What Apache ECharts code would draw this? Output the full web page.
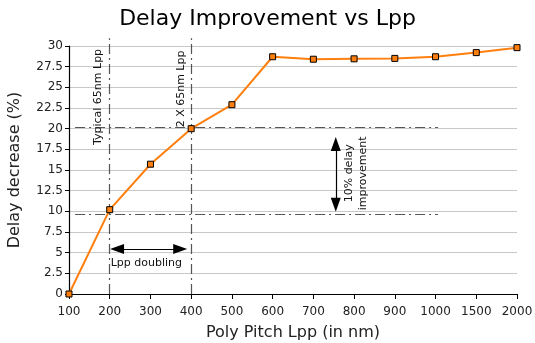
<!DOCTYPE html>
<html>
<head>
<meta charset="utf-8">
<script src="https://cdn.jsdelivr.net/npm/echarts@6/dist/echarts.min.js"></script>
<style>html,body{margin:0;padding:0;background:#fff;}#c{width:535px;height:343px;}</style>
</head>
<body>
<div id="c"></div>
<script>
const categories = ['100','200','300','400','500','600','700','800','900','1000','1500','2000'];
const delayDecrease = [0, 10.2, 15.7, 20.0, 22.9, 28.7, 28.4, 28.45, 28.5, 28.7, 29.2, 29.8];
const yMin = 0, yMax = 30, yStep = 2.5;
// annotation reference values (data units: x = category index, y = %)
const refVertical = [1, 3];          // Typical 65nm (200) and 2 X 65nm (400)
const refVerticalTop = 30.95;
const refHorizontal = [20.15, 9.7];
const refHorizontalSpan = [0.15, 9.06];
const delayArrow = {x: 6.55, from: 18.15, to: 10.8};
const doublingArrow = {y: 5.45, from: 1.18, to: 2.73};
const notes = [
  {text: 'Typical 65nm Lpp', x: 0.71, y: 29.65, rotate: true, align: 'right'},
  {text: '2 X 65nm Lpp', x: 2.75, y: 29.45, rotate: true, align: 'right'},
  {text: '10% delay\nimprovement', x: 7.05, y: 14.6, rotate: true, align: 'center'},
  {text: 'Lpp doubling', x: 1.9, y: 3.77, rotate: false, align: 'center'}
];

const FONT = 'DejaVu Sans';
const dashStyle = {color: '#555', width: 1.2, type: [10, 4, 2, 4]};
const arrowStyle = {color: '#000', width: 1.2, type: 'solid'};

function buildMarkLines(toPx) {
  const d = [];
  refVertical.forEach(x => {
    const top = toPx([x, refVerticalTop]);
    d.push([{coord: [x, yMin], lineStyle: dashStyle}, top ? {x: top[0], y: top[1]} : {coord: [x, yMax]}]);
  });
  refHorizontal.forEach(y => d.push([{coord: [refHorizontalSpan[0], y], lineStyle: dashStyle}, {coord: [refHorizontalSpan[1], y]}]));
  d.push([
    {coord: [delayArrow.x, delayArrow.from], symbol: 'triangle', symbolSize: [10, 14], lineStyle: arrowStyle},
    {coord: [delayArrow.x, delayArrow.to], symbol: 'triangle', symbolSize: [10, 14]}
  ]);
  d.push([
    {coord: [doublingArrow.from, doublingArrow.y], symbol: 'triangle', symbolSize: [10, 14], lineStyle: arrowStyle},
    {coord: [doublingArrow.to, doublingArrow.y], symbol: 'triangle', symbolSize: [10, 14]}
  ]);
  return d;
}

const chart = echarts.init(document.getElementById('c'), null, {renderer: 'canvas'});
chart.setOption({
  animation: false,
  backgroundColor: '#fff',
  textStyle: {fontFamily: FONT},
  title: {
    text: 'Delay Improvement vs Lpp', left: 'center', top: 3,
    textStyle: {fontFamily: FONT, fontSize: 22, fontWeight: 'normal', color: '#000'}
  },
  grid: {left: 69, right: 18, top: 46, bottom: 49, containLabel: false, outerBoundsMode: 'none'},
  xAxis: {
    type: 'value', min: 0, max: categories.length - 1, interval: 1,
    name: 'Poly Pitch Lpp (in nm)', nameLocation: 'middle', nameGap: 31,
    nameTextStyle: {fontFamily: FONT, fontSize: 16, color: '#222'},
    axisLine: {show: true, lineStyle: {color: '#000', width: 1.2}},
    axisTick: {show: true, length: 5, lineStyle: {color: '#000'}},
    axisLabel: {formatter: v => categories[v], fontSize: 12, color: '#222', margin: 12, fontFamily: FONT},
    splitLine: {show: false}
  },
  yAxis: {
    type: 'value', min: yMin, max: yMax, interval: yStep,
    name: 'Delay decrease (%)', nameLocation: 'middle', nameGap: 46,
    nameTextStyle: {fontFamily: FONT, fontSize: 16, color: '#222'},
    axisLine: {show: true, lineStyle: {color: '#000', width: 1.2}},
    axisTick: {show: true, length: 4, lineStyle: {color: '#000'}},
    axisLabel: {fontSize: 12, color: '#222', margin: 6, fontFamily: FONT},
    splitLine: {show: true, lineStyle: {color: '#c8c8c8', width: 1}}
  },
  series: [{
    type: 'line', clip: false, silent: true,
    data: delayDecrease.map((v, i) => [i, v]),
    lineStyle: {color: '#ff7f0e', width: 2},
    symbol: 'rect', symbolSize: 6,
    itemStyle: {color: '#ff7f0e', borderColor: '#000', borderWidth: 1},
    z: 5,
    markLine: {
      silent: true, symbol: ['none', 'none'], label: {show: false},
      emphasis: {disabled: true}, animation: false,
      data: buildMarkLines(() => null)
    }
  }]
});

const toPx = p => chart.convertToPixel({gridIndex: 0}, p);
const graphics = notes.map(n => {
  const p = toPx([n.x, n.y]);
  return {
    type: 'text', x: p[0], y: p[1], rotation: n.rotate ? Math.PI / 2 : 0, z: 10,
    style: {text: n.text, fontFamily: FONT, fontSize: 11, fill: '#111',
            align: n.align, verticalAlign: 'middle', lineHeight: 14}
  };
});
chart.setOption({
  graphic: graphics,
  series: [{markLine: {data: buildMarkLines(toPx)}}]
});
</script>
</body>
</html>
